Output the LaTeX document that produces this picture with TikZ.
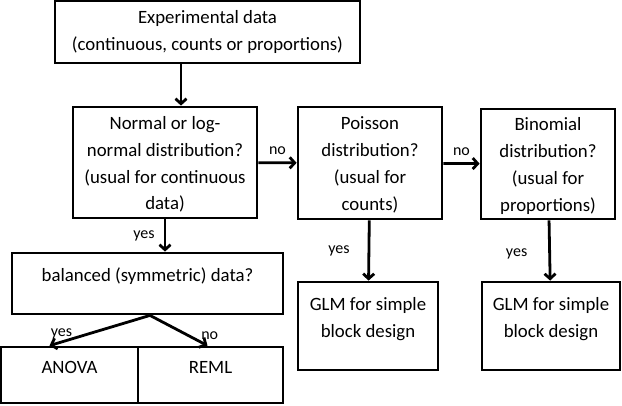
\documentclass[tikz,border=0pt]{standalone}
\usepackage{fontspec}
\setmainfont{Carlito}
\usetikzlibrary{arrows.meta}

\tikzset{
  box/.style={draw, line width=2.8pt, rectangle},
  txt/.style={align=center, inner sep=0pt, font=\fontsize{18.8}{26.8}\selectfont},
  lbl/.style={inner sep=1pt, font=\fontsize{16}{18}\selectfont},
  arr/.style={line width=2.8pt, -{Straight Barb[length=5pt,width=11pt]}}
}

\begin{document}
\begin{tikzpicture}[x=1pt, y=-1pt]
    \useasboundingbox (0,0) rectangle (622,405);

    % Start box
    \node[box, minimum width=305, minimum height=62] (exp) at (207.5,32) {};
    \node[txt] (exp-t) at (exp.center) {Experimental data\\(continuous, counts or proportions)};

    % Three distribution questions
    \node[box, minimum width=184, minimum height=111] (norm) at (165,162.5) {};
    \node[txt] (norm-t) at ([yshift=-2pt]norm.center) {Normal or log-\\normal distribution?\\(usual for continuous\\data)};
    \node[box, minimum width=144, minimum height=112] (poi) at (370,163) {};
    \node[txt] (poi-t) at ([yshift=-2pt]poi.center) {Poisson\\distribution?\\(usual for\\counts)};
    \node[box, minimum width=134, minimum height=110] (bino) at (548,164) {};
    \node[txt] (bino-t) at ([yshift=-2pt]bino.center) {Binomial\\distribution?\\(usual for\\proportions)};

    % Balanced or not
    \node[box, minimum width=271, minimum height=61] (bal) at (147.5,283.5) {};
    \node[txt] (bal-t) at ([yshift=7.5pt]bal.center) {balanced (symmetric) data?};

    % Final methods
    \node[box, minimum width=137, minimum height=56] (anova) at (69.5,375) {};
    \node[txt] (anova-t) at ([yshift=8pt]anova.center) {ANOVA};
    \node[box, minimum width=145, minimum height=56] (reml) at (210.5,375) {};
    \node[txt] (reml-t) at ([yshift=8pt]reml.center) {REML};
    \node[box, minimum width=140, minimum height=88] (glmp) at (368,326) {};
    \node[txt] (glmp-t) at ([yshift=7pt]glmp.center) {GLM for simple\\block design};
    \node[box, minimum width=138, minimum height=88] (glmb) at (551,326) {};
    \node[txt] (glmb-t) at ([yshift=7pt]glmb.center) {GLM for simple\\block design};

    % Arrows
    \draw[arr] ([xshift=16pt]norm.north |- exp.south) -- ([xshift=16pt]norm.north);
    \draw[arr] (norm) -- (poi) node[lbl, midway, above=6pt] {no};
    \draw[arr] (poi) -- (bino) node[lbl, midway, above=6pt] {no};
    \draw[arr] (norm.south) -- (norm.south |- bal.north) node[lbl, midway, left=8pt] {yes};
    \draw[arr] (poi) -- (glmp) node[lbl, midway, left=17pt] {yes};
    \draw[arr] (bino) -- (glmb) node[lbl, pos=.55, left=20pt] {yes};
    \draw[arr] ([xshift=2.5pt]bal.south) -- ([xshift=-20pt]anova.north) node[lbl, pos=.88, above=1pt] {yes};
    \draw[arr] ([xshift=2.5pt]bal.south) -- ([xshift=-3pt]reml.north) node[lbl, pos=.9, above=1pt, xshift=8pt] {no};
\end{tikzpicture}
\end{document}
